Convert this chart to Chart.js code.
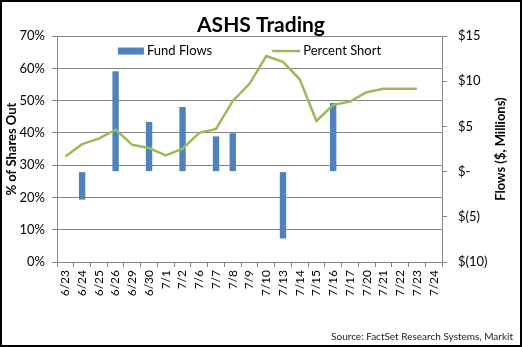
<!DOCTYPE html>
<html>
<head>
<meta charset="utf-8">
<script src="https://cdn.jsdelivr.net/npm/chart.js@4.4.1/dist/chart.umd.min.js"></script>
<style>
  html, body { margin: 0; padding: 0; background: #fff; }
  #wrap { position: relative; width: 522px; height: 347px; }
  #frame {
    position: absolute; left: 0; top: 0; width: 522px; height: 347px;
    box-sizing: border-box; border: 2px solid #000; pointer-events: none;
  }
</style>
</head>
<body>
<div id="wrap">
  <canvas id="myCanvas" width="522" height="347"></canvas>
  <div id="frame"></div>
</div>
<script>
const categories = ['6/23', '6/24', '6/25', '6/26', '6/29', '6/30', '7/1', '7/2', '7/6', '7/7', '7/8', '7/9',
  '7/10', '7/13', '7/14', '7/15', '7/16', '7/17', '7/20', '7/21', '7/22', '7/23', '7/24'];

// $ millions, right axis
const fundFlows = [null, -3.1, null, 11.1, null, 5.5, null, 7.15, null, 3.9, 4.25, null,
  null, -7.4, null, null, 7.6, null, null, null, null, null, null];

// % of shares out, left axis
const percentShort = [32.7, 36.5, 38.2, 41.0, 36.3, 35.3, 33.0, 35.1, 40.0, 41.2, 49.9, 55.2,
  63.8, 62.0, 56.6, 43.7, 48.7, 49.7, 52.6, 53.7, 53.7, 53.7, null];

const leftTicks = [0, 10, 20, 30, 40, 50, 60, 70];
const rightTicks = [-10, -5, 0, 5, 10, 15];

const FONT = 'Lato, "Open Sans", sans-serif';
const GRID = '#868686';
const BLUE = '#4f81bd';
const GREEN = '#9bbb59';

const flowLabel = (v) => {
  if (v === 0) return '$-';
  if (v < 0) return '$(' + -v + ')';
  return '$' + v;
};

// legend inside the plot, right axis title (reads bottom to top) and source line
const extras = {
  id: 'extras',
  afterDraw(chart) {
    const { ctx, chartArea } = chart;
    const ds = chart.data.datasets;
    ctx.save();
    ctx.font = '13px ' + FONT;
    ctx.textBaseline = 'middle';
    ctx.fillStyle = '#000';
    const w1 = ctx.measureText(ds[0].label).width;
    const w2 = ctx.measureText(ds[1].label).width;
    const total = 26 + 3 + w1 + 60 + 28 + 3 + w2;
    let x = (chartArea.left + chartArea.right) / 2 - total / 2;
    const y = chartArea.top + 15;
    ctx.fillStyle = ds[0].backgroundColor;
    ctx.fillRect(x, y - 3.5, 26, 7);
    x += 29;
    ctx.fillStyle = '#000';
    ctx.fillText(ds[0].label, x, y);
    x += w1 + 60;
    ctx.strokeStyle = ds[1].borderColor;
    ctx.lineWidth = 2.5;
    ctx.beginPath();
    ctx.moveTo(x, y);
    ctx.lineTo(x + 28, y);
    ctx.stroke();
    x += 31;
    ctx.fillText(ds[1].label, x, y);

    ctx.save();
    ctx.translate(501, (chartArea.top + chartArea.bottom) / 2);
    ctx.rotate(-Math.PI / 2);
    ctx.font = 'bold 13px ' + FONT;
    ctx.textAlign = 'center';
    ctx.fillText('Flows ($, Millions)', 0, 0);
    ctx.restore();

    ctx.font = '10px ' + FONT;
    ctx.textAlign = 'right';
    ctx.fillStyle = '#222';
    ctx.fillText('Source: FactSet Research Systems, Markit', 513, 337);
    ctx.restore();
  },
};

const ctx = document.getElementById('myCanvas');
new Chart(ctx, {
  type: 'bar',
  data: {
    labels: categories,
    datasets: [
      {
        type: 'bar',
        label: 'Fund Flows',
        data: fundFlows,
        yAxisID: 'yRight',
        backgroundColor: BLUE,
        borderWidth: 0,
        categoryPercentage: 1,
        barPercentage: 0.38,
        order: 2,
      },
      {
        type: 'line',
        label: 'Percent Short',
        data: percentShort,
        yAxisID: 'y',
        borderColor: GREEN,
        backgroundColor: GREEN,
        borderWidth: 2.5,
        pointRadius: 0,
        tension: 0,
        fill: false,
        order: 1,
      },
    ],
  },
  options: {
    responsive: false,
    animation: false,
    devicePixelRatio: 1,
    layout: { padding: 0 },
    plugins: {
      legend: { display: false },
      tooltip: { enabled: false },
      title: {
        display: true,
        text: 'ASHS Trading',
        color: '#000',
        font: { family: FONT, size: 21, weight: 'bold', lineHeight: 1.05 },
        padding: { top: 14, bottom: 0 },
      },
    },
    scales: {
      x: {
        offset: true,
        grid: { offset: true, drawOnChartArea: false, color: GRID, tickLength: 5 },
        border: { color: GRID },
        ticks: {
          autoSkip: false,
          minRotation: 90,
          maxRotation: 90,
          padding: 3,
          color: '#000',
          font: { family: FONT, size: 12 },
        },
        afterFit: (s) => { s.height = 85; },
      },
      y: {
        position: 'left',
        min: leftTicks[0],
        max: leftTicks[leftTicks.length - 1],
        afterBuildTicks: (s) => { s.ticks = leftTicks.map((v) => ({ value: v })); },
        grid: { color: GRID, tickLength: 5 },
        border: { color: GRID },
        ticks: {
          padding: 7,
          color: '#000',
          font: { family: FONT, size: 13 },
          callback: (v) => v + '%',
        },
        title: {
          display: true,
          text: '% of Shares Out',
          color: '#000',
          font: { family: FONT, size: 13, weight: 'bold' },
          padding: { top: 4, bottom: 0 },
        },
        afterFit: (s) => { s.width = 57; },
      },
      yRight: {
        position: 'right',
        min: rightTicks[0],
        max: rightTicks[rightTicks.length - 1],
        afterBuildTicks: (s) => { s.ticks = rightTicks.map((v) => ({ value: v })); },
        grid: { drawOnChartArea: false, color: GRID, tickLength: 5 },
        border: { color: GRID },
        ticks: {
          padding: 11,
          color: '#000',
          font: { family: FONT, size: 13 },
          callback: flowLabel,
        },
        afterFit: (s) => { s.width = 80; },
      },
    },
  },
  plugins: [extras],
});
</script>
</body>
</html>
